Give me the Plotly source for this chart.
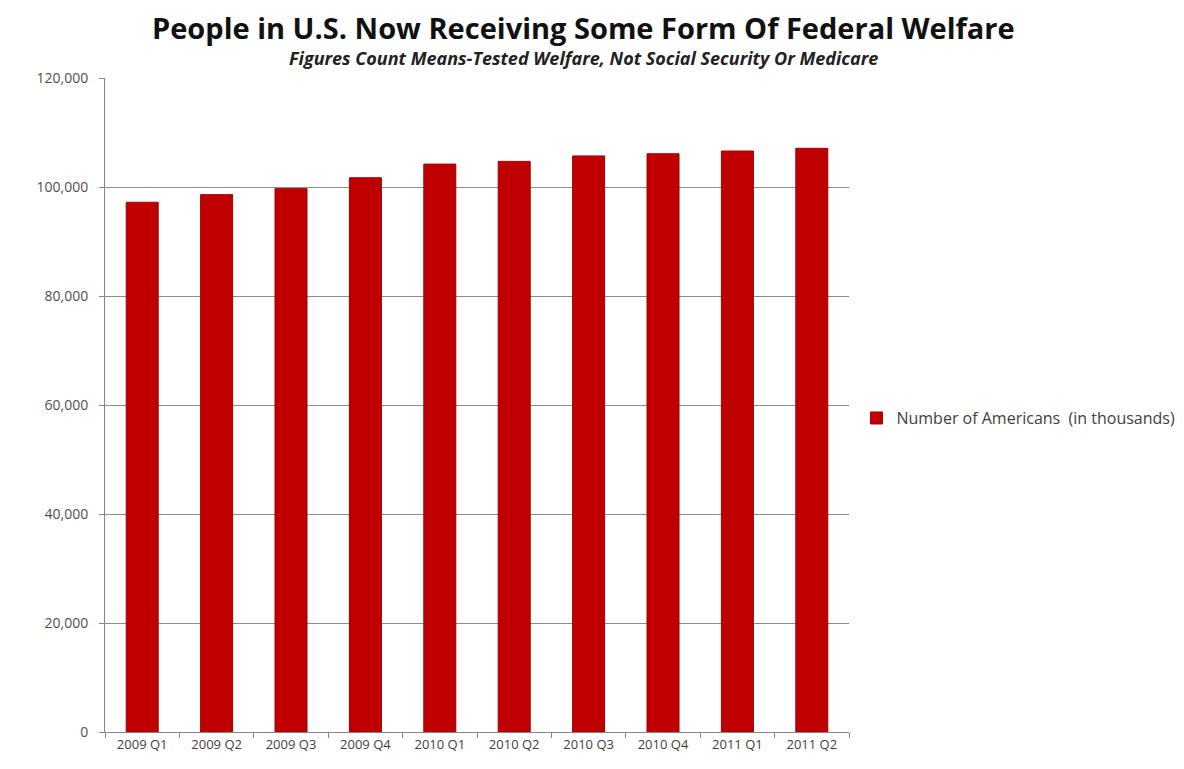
import plotly.graph_objects as go

categories = ["2009 Q1", "2009 Q2", "2009 Q3", "2009 Q4", "2010 Q1",
              "2010 Q2", "2010 Q3", "2010 Q4", "2011 Q1", "2011 Q2"]
values = [97200, 98600, 99700, 101700, 104200, 104700, 105700, 106100, 106600, 107100]
series_name = "Number of Americans  (in thousands)"
title_text = "People in U.S. Now Receiving Some Form Of Federal Welfare"
subtitle_text = "Figures Count Means-Tested Welfare, Not Social Security Or Medicare"
y_ticks = [0, 20000, 40000, 60000, 80000, 100000, 120000]

fig = go.Figure()
fig.add_trace(go.Bar(
    x=categories, y=values, name=series_name,
    marker=dict(color="#C00000", line=dict(color="#A00000", width=1)),
    showlegend=True,
))

fig.update_layout(
    width=1184, height=769,
    paper_bgcolor="white", plot_bgcolor="white",
    margin=dict(l=97, r=340, t=70, b=45),
    bargap=0.57,
    font=dict(family="Open Sans", color="#404040"),
    showlegend=True,
    legend=dict(x=1.01, y=0.48, xanchor="left", yanchor="middle",
                font=dict(size=16, color="#404040"),
                itemwidth=30, bgcolor="rgba(0,0,0,0)"),
    annotations=[
        dict(text="<b>" + title_text + "</b>", xref="paper", yref="paper",
             x=0.643, y=1.0, yshift=51, xanchor="center", yanchor="middle",
             showarrow=False, font=dict(size=29, color="#111111", family="Open Sans")),
        dict(text="<b><i>" + subtitle_text + "</i></b>", xref="paper", yref="paper",
             x=0.643, y=1.0, yshift=20, xanchor="center", yanchor="middle",
             showarrow=False, font=dict(size=18, color="#222222", family="Open Sans")),
    ],
)

fig.update_xaxes(
    showline=True, linecolor="#868686", linewidth=1,
    ticks="outside", tickson="boundaries", ticklen=5, tickcolor="#868686",
    tickfont=dict(size=13, color="#404040"), showgrid=False,
)
fig.update_yaxes(
    range=[0, 120000], tickvals=y_ticks, tickformat=",",
    showline=True, linecolor="#868686", linewidth=1,
    ticks="outside", ticklen=5, tickcolor="#868686", ticklabelstandoff=8,
    showgrid=True, gridcolor="#8c8c8c", gridwidth=1,
    tickfont=dict(size=14, color="#505050"), zeroline=False,
)

fig.write_html("out.html")
